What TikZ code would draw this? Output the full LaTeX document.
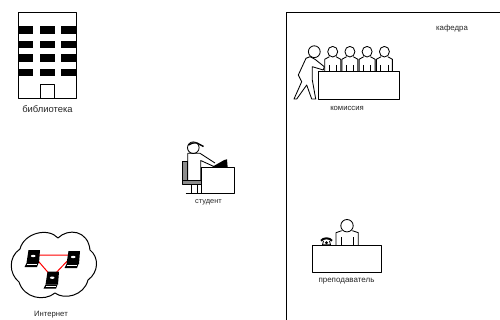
\documentclass[tikz,border=0pt]{standalone}
\usepackage{fontspec}
\setmainfont{Liberation Sans}
\tikzset{
 lab/.style={font=\fontsize{#1}{#1}\selectfont,inner sep=0pt,text=black!85},
 ln/.style={draw=black,line width=1pt,line join=round},
 thin ln/.style={draw=black,line width=.85pt,line join=round},
 pc/.style={inner sep=0pt,minimum size=1pt},
}
\newcommand{\seated}[2]{%
 \begin{scope}[shift={(#1,#2)}]
 \draw[thin ln] (0,-20.3) ellipse (5 and 5.3);
 \draw[thin ln] (-3.3,-15.3) -- (-8,-12.7) -- (-8,0) (3.3,-15.3) -- (8,-12.7) -- (8,0);
 \draw[thin ln] (-3.7,-7) -- (-3.7,0) (3.7,-7) -- (3.7,0);
 \end{scope}}
\newcommand{\laptop}[2]{%
 \begin{scope}[shift={(#1,#2)}]
 \fill[black] (-4.5,-8) -- (7,-8) -- (6,5) -- (-6.5,5) -- cycle;
 \fill[black] (-6.5,5) -- (5.5,5) -- (4,9) -- (-8.5,9) -- cycle;
 \fill[white] (0.2,-2) ellipse (2.3 and 1.2);
 \draw[white,line width=.25pt] (-6.5,6.5) -- (4,6.5);
 \end{scope}}
\begin{document}
\begin{tikzpicture}[x=1pt,y=-1pt]
\useasboundingbox (0,0) rectangle (500,320);
\fill[white] (0,0) rectangle (500,320);
% library
\draw[ln] (18.5,12.5) rectangle (76,99);
\foreach \y/\h in {26.5/7.5,41/7.5,54.5/7.5,69/7.5}
 \foreach \x/\w in {18.5/14.5,39.7/15.3,61/15}
  \fill[black] (\x,\y) rectangle ++(\w,\h);
\draw[ln] (40.3,84.7) rectangle (54.3,99);
\node[lab=9.4] (lib) at (47.5,109) {библиотека};
% kafedra frame
\draw[ln] (500,12.5) -- (286.5,12.5) -- (286.5,320);
\node[lab=7.8] (kaf) at (452,28.5) {кафедра};
% commission
\seated{332.7}{72}
\seated{349.9}{72}
\seated{367.1}{72}
\seated{384.4}{72}
\draw[thin ln] (314.3,51.7) circle (5.9);
\draw[thin ln] (310,56.7) -- (306,58.3) -- (298.3,75) -- (301.7,81.7) -- (294,99) -- (296.7,99) -- (306.7,85) -- (311.7,99) -- (315.7,99) -- (312.3,80) -- (312.3,66.7) -- (323.3,70) -- (324.3,66.7) -- (315,59.3) -- cycle;
\draw[ln,fill=white] (318.3,72) rectangle (399,99.3);
\node[lab=7.7] (kom) at (347,108) {комиссия};
% student
\fill[black!45] (182.3,161) rectangle (187.7,180);
\draw[thin ln] (182.3,161) rectangle (187.7,180);
\fill[black!45] (182.3,180) rectangle (201.7,184.3);
\draw[thin ln] (182.3,180) rectangle (201.7,184.3);
\draw[thin ln] (193.3,147.7) circle (5.8);
\draw[line width=1.4pt] (188.5,145) .. controls (191,143) and (194,142.5) .. (197,143) -- (203.5,146.5);
\draw[thin ln] (187.7,153.3) -- (187.7,180) (200.7,180) -- (200.7,160.5) -- (215,167) (187.7,153.3) -- (200,153.3) -- (215,163);
\draw[thin ln] (191.7,184.3) -- (191.7,193.5) (197.3,184.3) -- (197.3,193.5);
\draw[thin ln] (185.7,193.5) -- (201.7,193.5);
\fill[black] (210.7,167.7) -- (224.3,160) -- (227,159.3) -- (227.7,167.7) -- cycle;
\draw[ln,fill=white] (201.7,167.7) rectangle (234.7,194);
\node[lab=7.4] (stu) at (208.5,202.5) {студент};
% internet cloud
\draw[ln,fill=white] (20,249)
 .. controls (24,233) and (48,227) .. (58,238)
 .. controls (68,228) and (88,230) .. (90,250)
 .. controls (99,257) and (99,272) .. (88,280)
 .. controls (84,296) and (64,300) .. (55,293)
 .. controls (44,302) and (24,298) .. (19,282)
 .. controls (9,274) and (8,257) .. (20,249) -- cycle;
\node[pc] (la) at (33,255) {};
\node[pc] (lb) at (73,255) {};
\node[pc] (lc) at (52,277) {};
\draw[red,line width=1pt] (la) -- (lb) -- (lc) -- (la);
\laptop{33}{258}
\laptop{73}{259}
\laptop{52}{279.7}
\node[lab=7.7] (net) at (51,315) {Интернет};
% teacher
\draw[thin ln] (347,225.7) circle (6.2);
\draw[thin ln] (341.7,230.7) -- (336,232.7) -- (336,245) (352.3,230.7) -- (358.3,232.7) -- (358.3,245);
\draw[thin ln] (341.3,237) -- (341.3,245) (353.3,237) -- (353.3,245);
\draw[ln,fill=white] (312.3,245) rectangle (381,272.3);
\draw[line width=2pt] (321,240.8) .. controls (323,237.5) and (330,237.5) .. (332,240.8);
\draw[thin ln] (323.5,241) -- (322.5,244.8) -- (330.5,244.8) -- (329.5,241);
\fill[black] (326.5,242.7) circle (1.6);
\node[lab=8] (tea) at (346.5,281) {преподаватель};
\end{tikzpicture}
\end{document}
